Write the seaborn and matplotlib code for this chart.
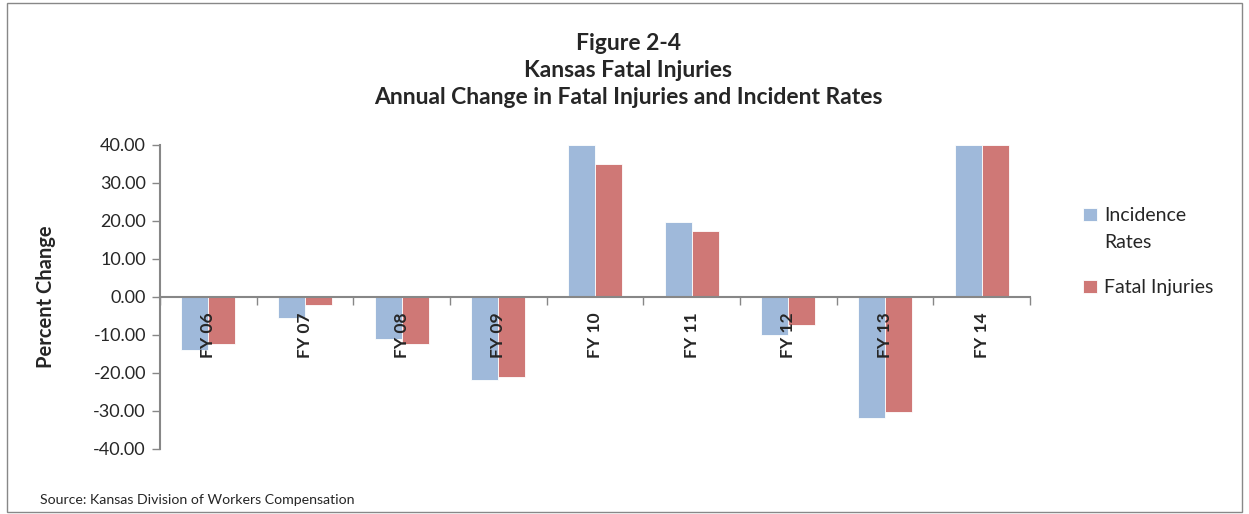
import seaborn as sns
import matplotlib.pyplot as plt
import pandas as pd
from matplotlib.patches import Rectangle
from matplotlib.legend_handler import HandlerPatch

# values (percent change)
years = ["FY 06", "FY 07", "FY 08", "FY 09", "FY 10", "FY 11", "FY 12", "FY 13", "FY 14"]
incidence_rates = [-13.9, -5.5, -11.1, -21.8, 40.0, 19.7, -9.9, -31.9, 40.0]
fatal_injuries = [-12.3, -2.2, -12.3, -21.1, 35.0, 17.3, -7.5, -30.3, 40.0]
series = ["Incidence Rates", "Fatal Injuries"]
legend_labels = ["Incidence\nRates", "Fatal Injuries"]
yticks = [-40, -30, -20, -10, 0, 10, 20, 30, 40]

df = pd.DataFrame({
    "year": years * 2,
    "series": [series[0]] * len(years) + [series[1]] * len(years),
    "value": incidence_rates + fatal_injuries,
})

sns.set_style("white")
plt.rcParams["font.family"] = ["Lato", "DejaVu Sans"]

fig = plt.figure(figsize=(12.49, 5.14), dpi=100)
ax = fig.add_axes([0.128, 0.1265, 0.6967, 0.5914])

palette = {series[0]: "#9fb9da", series[1]: "#cf7876"}
sns.barplot(data=df, x="year", y="value", hue="series", order=years,
            hue_order=series, palette=palette, width=0.56, saturation=1,
            edgecolor="white", linewidth=0.6, ax=ax)
ax.set_axisbelow(False)

axis_gray = "#878787"
ax.set_ylim(-40, 40)
ax.set_xlim(-0.5, len(years) - 0.5)
ax.set_yticks(yticks)
ax.set_yticklabels([f"{v:.2f}" for v in yticks], fontsize=13)
ax.tick_params(axis="y", direction="out", length=6, width=1, color=axis_gray, pad=4, left=True)

ax.set_xticks(range(len(years)))
ax.set_xticklabels(years)
ax.set_xticks([i - 0.5 for i in range(len(years) + 1)], minor=True)
ax.tick_params(axis="x", which="major", length=0, pad=11)
ax.tick_params(axis="x", which="minor", direction="out", length=6, width=1, color=axis_gray, bottom=True)

for s in ["top", "right"]:
    ax.spines[s].set_visible(False)
ax.spines["bottom"].set_position(("data", 0))
for s in ["left", "bottom"]:
    ax.spines[s].set_color(axis_gray)
    ax.spines[s].set_linewidth(1.5)

ax.set_xlabel("")
ax.set_ylabel("Percent Change", fontsize=14.5, fontweight="bold", labelpad=27)


# square next to the first line of a two-line legend label
def top_square(legend, orig_handle, xdescent, ydescent, width, height, fontsize):
    return Rectangle((-xdescent, -ydescent + 10.5), width, height)


handles, _ = ax.get_legend_handles_labels()
leg = ax.legend(handles, legend_labels, loc="upper left", bbox_to_anchor=(0.853, 0.632),
                bbox_transform=fig.transFigure, frameon=False, fontsize=14,
                handlelength=0.7, handleheight=0.7, handletextpad=0.4, labelspacing=1.45,
                handler_map={handles[0]: HandlerPatch(patch_func=top_square)})
for t in leg.get_texts():
    t.set_linespacing(1.75)

fig.text(0.503, 0.935, "Figure 2-4\nKansas Fatal Injuries\nAnnual Change in Fatal Injuries and Incident Rates",
         ha="center", va="top", fontsize=16.5, fontweight="bold", linespacing=1.35)
fig.text(0.032, 0.027, "Source: Kansas Division of Workers Compensation", fontsize=10.2, va="center")

fig.patches.append(Rectangle((0.006, 0.004), 0.988, 0.99, transform=fig.transFigure,
                             fill=False, edgecolor="#888888", linewidth=1))

plt.setp(ax.get_xticklabels(), rotation=90, fontsize=12.5, fontweight="bold", va="top", ha="center")

fig.savefig("out.png", dpi=100)
